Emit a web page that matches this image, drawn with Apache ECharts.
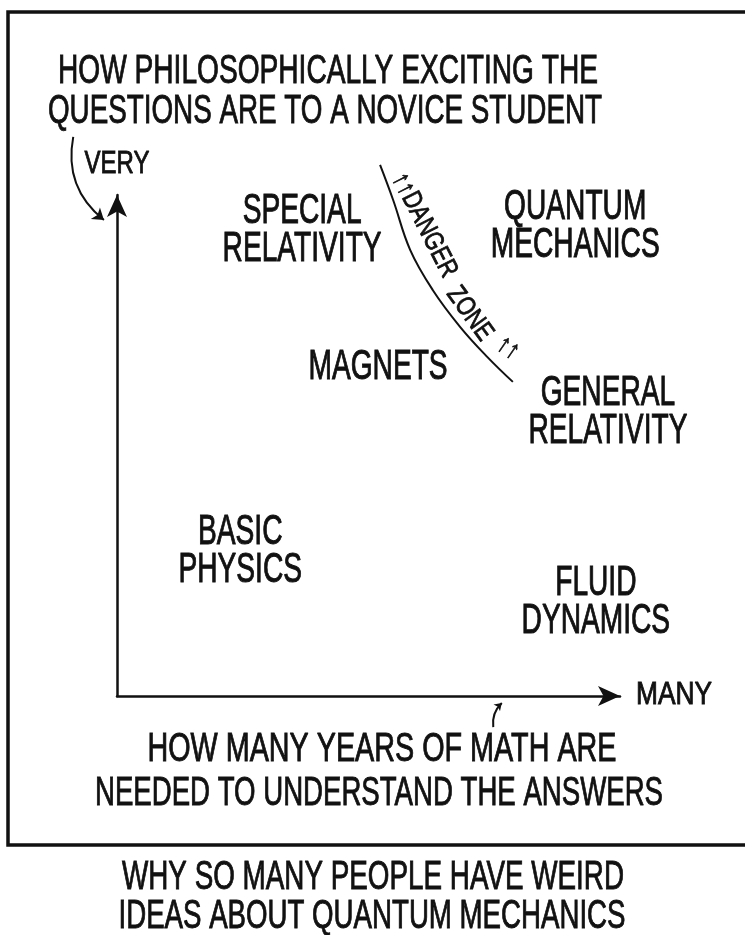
<!DOCTYPE html>
<html><head><meta charset="utf-8">
<script src="https://cdn.jsdelivr.net/npm/echarts/dist/echarts.min.js"></script>
<style>html,body{margin:0;padding:0;background:#fff}#c{width:745px;height:935px}</style>
</head><body><div id="c"></div>
<script>
// ---- data ----
const topics = ['SPECIAL\nRELATIVITY','QUANTUM\nMECHANICS','MAGNETS','GENERAL\nRELATIVITY','BASIC\nPHYSICS','FLUID\nDYNAMICS'];
const mathYears = [3.68, 9.11, 5.19, 9.76, 2.45, 9.52];
const excitement = [9.30, 9.38, 6.55, 5.67, 2.89, 1.86];
const dangerX = [5.23, 5.49, 5.83, 6.28, 6.82, 7.36, 7.87];
const dangerY = [10.60, 9.90, 8.90, 8.10, 7.37, 6.77, 6.27];
const dashX = [10.40, 11.43];
const dashY = [4.63, 4.27];
const dangerText = ['↑↑DANGER', 'ZONE', '↑↑'];
const dangerTextX = [6.11, 7.01, 7.78];
const dangerTextY = [9.40, 7.63, 6.95];
const dangerTextAngle = [63, 54, 35];
const yTitle = ['HOW PHILOSOPHICALLY EXCITING THE', 'QUESTIONS ARE TO A NOVICE STUDENT'];
const xTitle = ['HOW MANY YEARS OF MATH ARE', 'NEEDED TO UNDERSTAND THE ANSWERS'];
const caption = ['WHY SO MANY PEOPLE HAVE WEIRD', 'IDEAS ABOUT QUANTUM MECHANICS'];
const yEndLabel = 'VERY';
const xEndLabel = 'MANY';

// ---- helpers ----
const INK = '#111';
const FAM = "'Liberation Sans', Arial, sans-serif";
const mctx = document.createElement('canvas').getContext('2d');
function fit(text, size, width) {
  mctx.font = size + 'px ' + FAM;
  return width / mctx.measureText(text).width;
}
function gText(text, cx, cy, size, width) {
  return {type: 'text', x: cx, y: cy, scaleX: fit(text, size, width),
    style: {text: text, font: size + 'px ' + FAM, fill: INK, stroke: INK, lineWidth: 0.9,
      align: 'center', verticalAlign: 'middle'}};
}

const chart = echarts.init(document.getElementById('c'), null, {renderer: 'canvas'});
const axisCommon = {
  type: 'value', min: 0, max: 10,
  axisTick: {show: false}, axisLabel: {show: false}, splitLine: {show: false},
  axisLine: {show: true, symbol: ['none', 'arrow'], symbolSize: [15, 22], lineStyle: {color: INK, width: 2.5}}
};

chart.setOption({
  backgroundColor: '#fff',
  animation: false,
  grid: {left: 117, right: 125, top: 195, bottom: 239},
  xAxis: Object.assign({}, axisCommon),
  yAxis: Object.assign({}, axisCommon),
  graphic: [
    {type: 'rect', shape: {x: 8, y: 12, width: 780, height: 833}, style: {fill: 'none', stroke: INK, lineWidth: 3.5}},
    gText(yTitle[0], 328, 72, 40, 540),
    gText(yTitle[1], 325, 112, 40, 554),
    gText(xTitle[0], 382, 750, 40, 469),
    gText(xTitle[1], 379, 794, 40, 568),
    gText(caption[0], 373, 878, 40, 502),
    gText(caption[1], 372, 917, 40, 507),
    gText(yEndLabel, 117, 164, 32, 65),
    gText(xEndLabel, 674, 695, 32, 76)
  ],
  series: [
    {
      type: 'custom', coordinateSystem: 'cartesian2d',
      data: topics.map((t, i) => [mathYears[i], excitement[i]]),
      renderItem: function (params, api) {
        const p = api.coord([api.value(0), api.value(1)]);
        return {type: 'text', x: p[0], y: p[1], scaleX: 0.67,
          style: {text: topics[params.dataIndex], font: '42px ' + FAM, fill: INK, stroke: INK, lineWidth: 1,
            align: 'center', verticalAlign: 'middle', lineHeight: 38}};
      }
    },
    {
      type: 'line', smooth: 0.4, symbol: 'none', clip: false,
      data: dangerX.map((x, i) => [x, dangerY[i]]),
      lineStyle: {color: INK, width: 2}
    },
    {
      type: 'line', symbol: 'none', clip: false,
      data: dashX.map((x, i) => [x, dashY[i]]),
      lineStyle: {color: INK, width: 2}
    },
    {
      type: 'custom', coordinateSystem: 'cartesian2d',
      data: dangerText.map((t, i) => [dangerTextX[i], dangerTextY[i]]),
      renderItem: function (params, api) {
        const p = api.coord([api.value(0), api.value(1)]);
        return {type: 'text', x: p[0], y: p[1], scaleX: 0.8,
          rotation: -dangerTextAngle[params.dataIndex] * Math.PI / 180,
          style: {text: dangerText[params.dataIndex], font: '27px ' + FAM, fill: INK, stroke: INK, lineWidth: 0.8,
            align: 'center', verticalAlign: 'middle'}};
      }
    },
    {
      type: 'lines', coordinateSystem: 'cartesian2d', clip: false,
      symbol: ['none', 'arrow'], symbolSize: 11,
      lineStyle: {color: INK, width: 2, opacity: 1},
      data: [
        {coords: [[-0.87, 11.16], [-0.26, 9.50]], lineStyle: {curveness: -0.3}},
        {coords: [[7.48, -0.62], [7.65, -0.14]], lineStyle: {curveness: 0.25}, symbolSize: 7}
      ]
    }
  ]
});
</script>
</body></html>
